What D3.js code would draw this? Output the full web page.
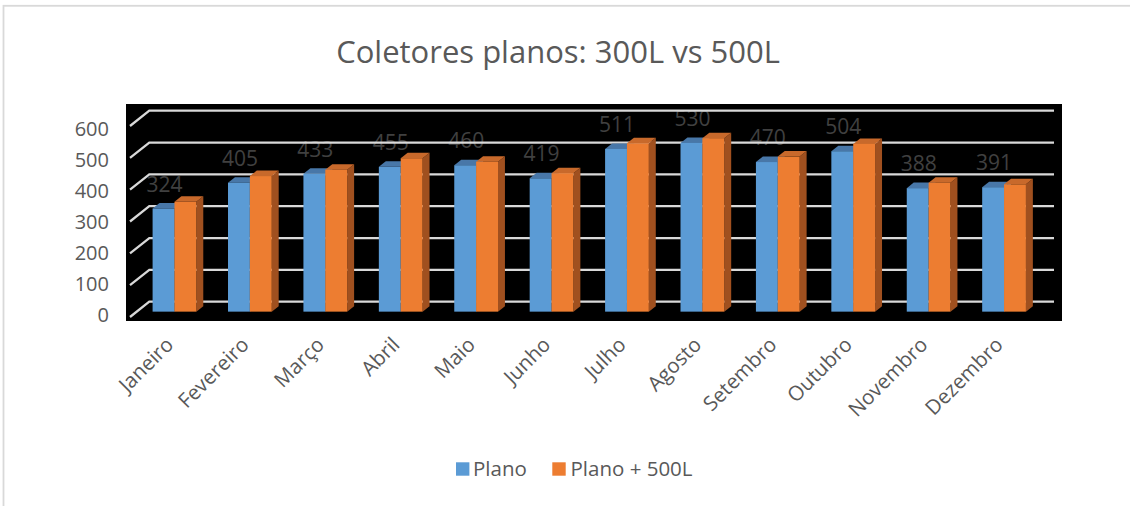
<!DOCTYPE html>
<html>
<head>
<meta charset="utf-8">
<script src="https://cdn.jsdelivr.net/npm/d3@7"></script>
<style>
  html, body { margin: 0; padding: 0; background: #fff; }
  svg { display: block; font-family: "Open Sans", "Noto Sans", sans-serif; }
</style>
</head>
<body>
<svg id="chart" width="1130" height="506"></svg>
<script>
// Monthly values for the two collector setups
const months = ["Janeiro", "Fevereiro", "Março", "Abril", "Maio", "Junho",
                "Julho", "Agosto", "Setembro", "Outubro", "Novembro", "Dezembro"];
const seriesNames = ["Plano", "Plano + 500L"];
const plano = [324, 405, 433, 455, 460, 419, 511, 530, 470, 504, 388, 391];
const plano500 = [345, 426, 446, 482, 471, 435, 529, 545, 487, 527, 405, 400];
const yTicks = [0, 100, 200, 300, 400, 500, 600];

const colors = {
  "Plano": { front: "#5B9BD5", top: "#4877A8", side: "#3F6A96" },
  "Plano + 500L": { front: "#ED7D31", top: "#C8692B", side: "#A0501F" }
};

const svg = d3.select("#chart");

// outer chart frame
svg.append("rect")
  .attr("x", 3.5).attr("y", 5.8)
  .attr("width", 1200).attr("height", 600)
  .attr("fill", "none").attr("stroke", "#d9d9d9").attr("stroke-width", 1.8);

// title
svg.append("text")
  .attr("x", 558).attr("y", 63)
  .attr("text-anchor", "middle")
  .attr("font-size", 31)
  .attr("fill", "#595959")
  .text("Coletores planos: 300L vs 500L");

// Oblique projection: front plane + depth vector
const DX = 19.3, DY = -15.3;      // full depth offset (back wall)
const barDepth0 = 0.35;           // depth where bar front faces sit
const barDepth = 0.36;            // bar thickness in depth units

const x0 = d3.scaleBand().domain(months).range([130, 1035])
  .paddingInner(0.42).paddingOuter(0.21);
const x1 = d3.scaleBand().domain(seriesNames).range([0, x0.bandwidth()]);
const y = d3.scaleLinear().domain([0, 600]).range([317, 126]);
const yLabel = d3.scaleLinear().domain([0, 600]).range([315, 129]);

// plot area fill
svg.append("rect")
  .attr("x", 126).attr("y", 104)
  .attr("width", 936).attr("height", 217)
  .attr("fill", "#000");

// value labels for the Plano series
const labelG = svg.append("g");
labelG.selectAll("text").data(months).join("text")
  .attr("x", (m) => x0(m) + x1("Plano") + x1.bandwidth() / 2 + barDepth0 * DX + 1)
  .attr("y", (m, i) => y(plano[i]) + barDepth0 * DY - 17)
  .attr("text-anchor", "middle")
  .attr("font-size", 21)
  .attr("fill", "#404040")
  .text((m, i) => plano[i]);

// gridlines: slanted stub on the floor side + back wall line
const gridG = svg.append("g")
  .attr("stroke", "#d9d9d9").attr("stroke-width", 2.3).attr("fill", "none");
gridG.selectAll("path").data(yTicks).join("path")
  .attr("d", (t) => {
    const fx = 130, fy = y(t);
    return `M${fx},${fy}L${fx + DX},${fy + DY}L1054,${fy + DY}`;
  });

// y-axis labels
svg.append("g").selectAll("text").data(yTicks).join("text")
  .attr("x", 109).attr("y", (t) => yLabel(t))
  .attr("dy", "0.36em")
  .attr("text-anchor", "end")
  .attr("font-size", 20)
  .attr("fill", "#595959")
  .text((t) => t);

// bars
const rows = [];
months.forEach((m, i) => {
  rows.push({ m, s: "Plano", v: plano[i] });
  rows.push({ m, s: "Plano + 500L", v: plano500[i] });
});

const bd = barDepth;
const barG = svg.append("g");
rows.forEach((d) => {
  const w = x1.bandwidth();
  const xl = x0(d.m) + x1(d.s) + barDepth0 * DX;
  const xr = xl + w;
  const yt = y(d.v) + barDepth0 * DY;
  const yb = y(0) + barDepth0 * DY;
  const ox = bd * DX, oy = bd * DY;
  const c = colors[d.s];
  const g = barG.append("g");
  // right side face
  g.append("path")
    .attr("d", `M${xr},${yt}L${xr + ox},${yt + oy}L${xr + ox},${yb + oy}L${xr},${yb}Z`)
    .attr("fill", c.side);
  // top face
  g.append("path")
    .attr("d", `M${xl},${yt}L${xr},${yt}L${xr + ox},${yt + oy}L${xl + ox},${yt + oy}Z`)
    .attr("fill", c.top);
  // front face
  g.append("rect")
    .attr("x", xl).attr("y", yt)
    .attr("width", w).attr("height", yb - yt)
    .attr("fill", c.front);
});

// category labels, rotated
svg.append("g").selectAll("text").data(months).join("text")
  .attr("transform", (m) => `translate(${x0(m) + x0.bandwidth() / 2 + 7},346) rotate(-45)`)
  .attr("text-anchor", "end")
  .attr("font-size", 20.5)
  .attr("fill", "#595959")
  .text((m) => m);

// legend
const legend = svg.append("g");
const legendItems = [
  { name: "Plano", sx: 456, tx: 473 },
  { name: "Plano + 500L", sx: 552.3, tx: 570.5 }
];
legendItems.forEach((it) => {
  legend.append("rect")
    .attr("x", it.sx).attr("y", 462.3)
    .attr("width", 13.4).attr("height", 13.4)
    .attr("fill", colors[it.name].front);
  legend.append("text")
    .attr("x", it.tx).attr("y", 476)
    .attr("font-size", 20.5)
    .attr("fill", "#595959")
    .text(it.name);
});
</script>
</body>
</html>
